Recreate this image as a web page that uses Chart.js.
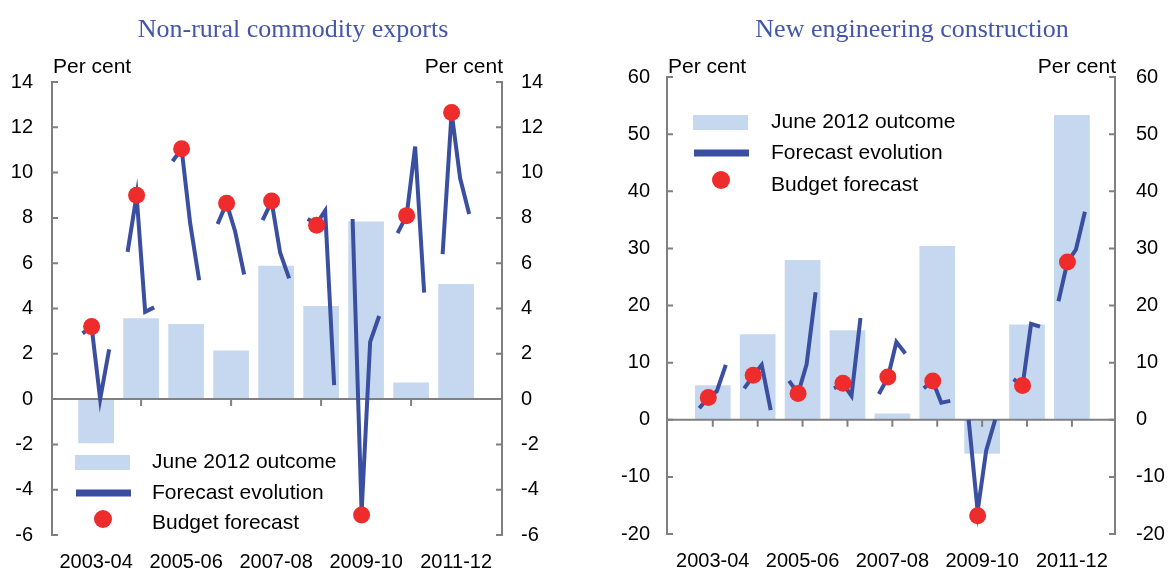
<!DOCTYPE html>
<html lang="en">
<head>
<meta charset="UTF-8">
<title>Non-rural commodity exports and new engineering construction</title>
<script src="https://cdn.jsdelivr.net/npm/chart.js"></script>
<style>
  html, body { margin: 0; padding: 0; background: #fff; }
  #wrap { position: relative; width: 1168px; height: 570px; }
  canvas { position: absolute; top: 0; }
</style>
</head>
<body>
<div id="wrap">
  <canvas id="exportsChart" width="584" height="570" style="left:0"></canvas>
  <canvas id="engChart" width="584" height="570" style="left:584px"></canvas>
</div>
<script>
const years = ['2003-04', '2004-05', '2005-06', '2006-07', '2007-08', '2008-09', '2009-10', '2010-11', '2011-12'];
// where each forecast round sits inside its financial year (in years)
const forecastRounds = [-0.3, -0.1, 0.09, 0.29];
const budgetRound = 1;

const exportsOutcome = [-1.93, 3.56, 3.3, 2.13, 5.87, 4.1, 7.83, 0.72, 5.07];
const exportsBudget = [3.2, 9.0, 11.05, 8.65, 8.75, 7.68, -5.12, 8.1, 12.65];
const exportsEvolution = [
  [2.9, 3.2, 0.0, 2.2],
  [6.5, 9.0, 3.85, 4.05],
  [10.5, 11.05, 7.77, 5.25],
  [7.73, 8.65, 7.4, 5.5],
  [7.9, 8.72, 6.46, 5.33],
  [7.95, 7.75, 8.32, 0.62],
  [7.95, -5.0, 2.53, 3.67],
  [7.33, 8.1, 11.15, 4.7],
  [6.4, 12.65, 9.75, 8.17]
];

const engOutcome = [6.0, 14.9, 27.9, 15.6, 1.05, 30.35, -5.9, 16.6, 53.3];
const engBudget = [3.9, 7.8, 4.6, 6.4, 7.5, 6.8, -16.8, 6.0, 27.6];
const engEvolution = [
  [2.0, 3.9, 5.0, 9.6],
  [5.5, 7.7, 9.6, 1.7],
  [6.8, 4.6, 9.7, 22.3],
  [5.5, 6.3, 4.2, 17.8],
  [4.5, 7.4, 13.6, 11.6],
  [5.5, 6.8, 3.0, 3.3],
  [0.0, -16.0, -5.4, 0.0],
  [7.1, 5.9, 16.8, 16.3],
  [20.75, 27.6, 29.8, 36.4]
];

const ink = { bar: '#c6d8ef', line: '#3b4fa1', dot: '#ee2c2c', axis: '#808080', title: '#4357a8' };
const sans = '"Liberation Sans", Arial, sans-serif';
Chart.defaults.font.family = sans;

// zero line, axis ticks, titles, "Per cent" and the legend
const decor = {
  id: 'decor',
  afterDatasetDraw(chart, args, o) {
    if (args.index !== 0) return;
    const { ctx, chartArea: a, scales: { x, y } } = chart;
    const y0 = y.getPixelForValue(0);
    ctx.save();
    ctx.strokeStyle = ink.axis;
    ctx.lineWidth = 2;
    ctx.beginPath();
    ctx.moveTo(a.left, y0);
    ctx.lineTo(a.right, y0);
    o.tickAt.forEach(i => {
      const px = x.getPixelForValue(i);
      ctx.moveTo(px, y0);
      ctx.lineTo(px, y0 + 7);
    });
    ctx.stroke();
    ctx.restore();
  },
  afterDraw(chart, args, o) {
    const { ctx, chartArea: a, scales: { y } } = chart;
    ctx.save();
    ctx.strokeStyle = ink.axis;
    ctx.lineWidth = 2;
    ctx.beginPath();
    y.ticks.forEach(t => {
      const py = y.getPixelForValue(t.value);
      ctx.moveTo(a.left, py); ctx.lineTo(a.left + 6, py);
      ctx.moveTo(a.right, py); ctx.lineTo(a.right - 6, py);
    });
    ctx.stroke();

    ctx.fillStyle = ink.title;
    ctx.font = '26px "Liberation Serif", "Times New Roman", serif';
    ctx.textAlign = 'center';
    ctx.textBaseline = 'alphabetic';
    ctx.fillText(o.title, o.titleX, 37);

    ctx.fillStyle = '#000';
    ctx.font = '21px ' + sans;
    ctx.textAlign = 'left';
    ctx.fillText('Per cent', a.left + 1, 73);
    ctx.textAlign = 'right';
    ctx.fillText('Per cent', a.right + 1, 73);

    const L = o.legend;
    const ds = chart.data.datasets;
    ctx.fillStyle = ink.bar;
    ctx.fillRect(L.x, L.rows[0] - 7, 55, 15);
    ctx.strokeStyle = ink.line;
    ctx.lineWidth = 7;
    ctx.beginPath();
    ctx.moveTo(L.x + 1, L.rows[1]);
    ctx.lineTo(L.x + 56, L.rows[1]);
    ctx.stroke();
    ctx.fillStyle = ink.dot;
    ctx.beginPath();
    ctx.arc(L.x + 28, L.dotY, 9, 0, Math.PI * 2);
    ctx.fill();
    ctx.fillStyle = '#000';
    ctx.textAlign = 'left';
    ctx.textBaseline = 'middle';
    ds.forEach((d, k) => ctx.fillText(d.label, L.textX, L.rows[k]));
    ctx.restore();
  }
};

function buildPanel(id, outcome, evolution, budget, p) {
  const evoPoints = [];
  evolution.forEach((row, i) => {
    row.forEach((v, k) => evoPoints.push({ x: i + forecastRounds[k], y: v }));
    evoPoints.push({ x: i + 0.5, y: null });
  });

  const yTicks = pad => ({ stepSize: p.step, padding: pad, color: '#000', font: { size: 20 } });

  return new Chart(document.getElementById(id), {
    type: 'bar',
    data: {
      datasets: [
        {
          type: 'bar', label: 'June 2012 outcome',
          data: outcome.map((v, i) => ({ x: i, y: v })),
          backgroundColor: ink.bar, barThickness: 35, order: 3
        },
        {
          type: 'line', label: 'Forecast evolution', data: evoPoints,
          borderColor: ink.line, borderWidth: 4, pointRadius: 0,
          spanGaps: false, tension: 0, order: 2
        },
        {
          type: 'line', label: 'Budget forecast',
          data: budget.map((v, i) => ({ x: i + forecastRounds[budgetRound], y: v })),
          showLine: false, pointRadius: 8.5, pointBackgroundColor: ink.dot,
          pointBorderWidth: 0, order: 1
        }
      ]
    },
    plugins: [decor],
    options: {
      responsive: false,
      animation: false,
      devicePixelRatio: 1,
      layout: { padding: { top: p.top, left: 0, right: 0, bottom: 0 } },
      plugins: {
        legend: { display: false },
        tooltip: { enabled: false },
        decor: { title: p.title, titleX: p.titleX, tickAt: p.tickAt, legend: p.legend }
      },
      scales: {
        x: {
          type: 'linear', min: p.xMin, max: p.xMax, offset: false,
          grid: { display: false, drawTicks: false },
          border: { display: false },
          afterBuildTicks: s => { s.ticks = years.map((_, i) => ({ value: i })); },
          afterFit: s => { s.height = 570 - p.bottom; },
          ticks: {
            autoSkip: false, maxRotation: 0, padding: 15, color: '#000', font: { size: 20 },
            callback: v => (v % 2 === 0 ? years[v] : '')
          }
        },
        y: {
          position: 'left', min: p.yMin, max: p.yMax,
          grid: { display: false, drawTicks: false },
          border: { color: ink.axis, width: 2 },
          afterFit: s => { s.width = p.left; },
          ticks: yTicks(p.padL)
        },
        y2: {
          position: 'right', min: p.yMin, max: p.yMax,
          grid: { display: false, drawTicks: false },
          border: { color: ink.axis, width: 2 },
          afterFit: s => { s.width = 584 - p.right; },
          ticks: yTicks(p.padR)
        }
      }
    }
  });
}

buildPanel('exportsChart', exportsOutcome, exportsEvolution, exportsBudget, {
  title: 'Non-rural commodity exports', titleX: 293,
  top: 82, bottom: 535, left: 52, right: 502,
  xMin: -0.98, xMax: 9.02, yMin: -6, yMax: 14, step: 2,
  padL: 19, padR: 19, tickAt: [1, 3, 5, 7],
  legend: { x: 75, rows: [462, 493, 523], dotY: 519, textX: 152 }
});

buildPanel('engChart', engOutcome, engEvolution, engBudget, {
  title: 'New engineering construction', titleX: 328,
  top: 77, bottom: 534, left: 83, right: 531,
  xMin: -1.02, xMax: 8.96, yMin: -20, yMax: 60, step: 10,
  padL: 17, padR: 21, tickAt: [0, 1, 2, 3, 4, 5, 6, 7, 8],
  legend: { x: 109, rows: [122, 153, 185], dotY: 180, textX: 187 }
});
</script>
</body>
</html>
